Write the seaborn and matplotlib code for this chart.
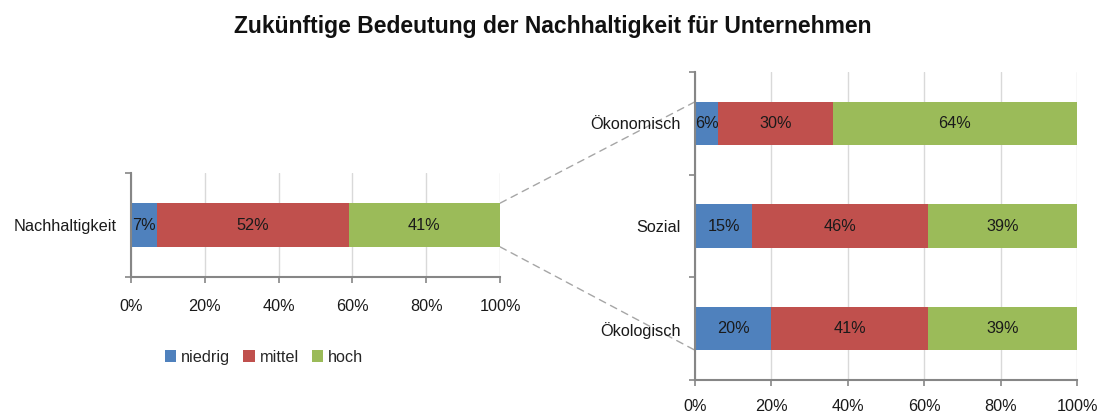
import matplotlib
matplotlib.use("Agg")
import matplotlib.pyplot as plt
import seaborn as sns
import pandas as pd
import numpy as np
from matplotlib.patches import Patch, ConnectionPatch
from matplotlib.ticker import FixedLocator, PercentFormatter

# data
levels = ["niedrig", "mittel", "hoch"]
colors = ["#4F81BD", "#C0504D", "#9BBB59"]

left_cats = ["Nachhaltigkeit"]
left_niedrig = [7]
left_mittel = [52]
left_hoch = [41]

right_cats = ["Ökonomisch", "Sozial", "Ökologisch"]
right_niedrig = [6, 15, 20]
right_mittel = [30, 46, 41]
right_hoch = [64, 39, 39]

x_ticks = [0, 20, 40, 60, 80, 100]

sns.set_theme(style="white")
plt.rcParams['font.family'] = ['Liberation Sans', 'DejaVu Sans']

FS = 11.7
SPINE = "#868686"
GRID = "#D9D9D9"
BAR_W = 0.42


def stacked_panel(ax, cats, niedrig, mittel, hoch, xpad=12):
    df = pd.DataFrame({"cat": cats, "niedrig": niedrig, "mittel": mittel, "hoch": hoch})
    df["c1"] = df["niedrig"]
    df["c2"] = df["niedrig"] + df["mittel"]
    df["c3"] = df["c2"] + df["hoch"]
    # draw back to front so the cumulative bars look stacked
    for col, color in zip(["c3", "c2", "c1"], colors[::-1]):
        sns.barplot(data=df, x=col, y="cat", orient="h", color=color,
                    width=BAR_W, saturation=1, ax=ax, edgecolor="none", zorder=2)
    for i, row in df.iterrows():
        start = 0
        for lev in levels:
            v = row[lev]
            ax.text(start + v / 2, i, f"{v}%", ha="center", va="center",
                    fontsize=FS, color="#1a1a1a", zorder=3)
            start += v

    ax.set_xlim(0, 100)
    ax.set_ylim(len(cats) - 0.5, -0.5)
    ax.set_xlabel("")
    ax.set_ylabel("")
    ax.xaxis.set_major_locator(FixedLocator(x_ticks))
    ax.xaxis.set_major_formatter(PercentFormatter(decimals=0))
    ax.grid(axis="x", color=GRID, lw=1)
    ax.grid(axis="y", visible=False)
    ax.set_axisbelow(True)
    for s in ["top", "right"]:
        ax.spines[s].set_visible(False)
    for s in ["left", "bottom"]:
        ax.spines[s].set_color(SPINE)
        ax.spines[s].set_linewidth(1.5)
    ax.tick_params(axis="x", which="major", direction="out", length=4,
                   color=SPINE, width=1.2, pad=xpad, labelsize=FS, labelcolor="#1a1a1a", bottom=True)
    ax.tick_params(axis="y", which="major", length=0, pad=10, labelsize=FS, labelcolor="#1a1a1a")
    ax.yaxis.set_minor_locator(FixedLocator(np.arange(len(cats) + 1) - 0.5))
    ax.tick_params(axis="y", which="minor", direction="out", length=4,
                   color=SPINE, width=1.2, left=True)
    return df


fig = plt.figure(figsize=(10.99, 4.15), dpi=100)
ax_l = fig.add_axes([0.1192, 0.3325, 0.3358, 0.2506])
ax_r = fig.add_axes([0.6324, 0.0843, 0.3476, 0.7422])

stacked_panel(ax_l, left_cats, left_niedrig, left_mittel, left_hoch, xpad=12)
stacked_panel(ax_r, right_cats, right_niedrig, right_mittel, right_hoch, xpad=9.5)

# dashed connectors from the total bar to the breakdown
half = BAR_W / 2
for ya, yb in [(-half, -half), (half, len(right_cats) - 1 + half)]:
    con = ConnectionPatch(xyA=(100, ya), coordsA=ax_l.transData,
                          xyB=(0, yb), coordsB=ax_r.transData,
                          color="#A6A6A6", lw=1, ls=(0, (5, 4)), zorder=0)
    fig.add_artist(con)

handles = [Patch(facecolor=c, edgecolor="none") for c in colors]
fig.legend(handles, levels, loc="center", bbox_to_anchor=(264 / 1099, 1 - 357 / 415),
           ncol=3, frameon=False, handlelength=0.7, handleheight=0.7,
           handletextpad=0.3, columnspacing=0.8, fontsize=FS)

fig.text(0.503, 1 - 27 / 415, "Zukünftige Bedeutung der Nachhaltigkeit für Unternehmen",
         ha="center", va="center", fontsize=16.5, fontweight="bold", color="#111111")

fig.savefig("out.png", dpi=100)
plt.close(fig)
